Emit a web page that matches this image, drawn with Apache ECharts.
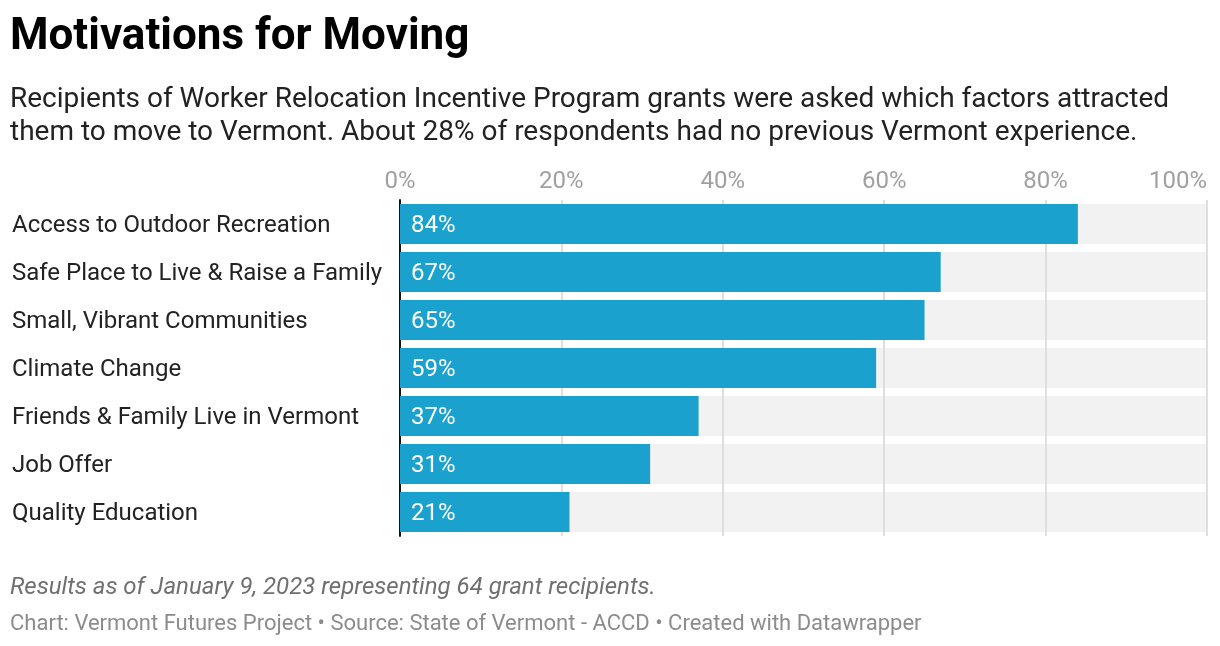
<!DOCTYPE html>
<html><head><meta charset="utf-8">
<script src="https://cdn.jsdelivr.net/npm/echarts@6/dist/echarts.min.js"></script>
<style>html,body{margin:0;padding:0;background:#fff}#c{width:1220px;height:646px}</style>
</head><body><div id="c"></div>
<script>
const categories = ["Access to Outdoor Recreation","Safe Place to Live & Raise a Family","Small, Vibrant Communities","Climate Change","Friends & Family Live in Vermont","Job Offer","Quality Education"];
const values = [84, 67, 65, 59, 37, 31, 21];
const backgroundValues = [100, 100, 100, 100, 100, 100, 100];
const tickLabels = ["0%","20%","40%","60%","80%","100%"];

const chart = echarts.init(document.getElementById('c'), null, {renderer:'canvas'});
const F = 'Roboto, "Noto Sans", sans-serif';
chart.setOption({
  backgroundColor:'#ffffff',
  animation:false,
  title:[
    {text:'Motivations for Moving', left:5, top:11, textStyle:{fontFamily:F, fontSize:44, fontWeight:'bold', color:'#000'}},
    {text:'Recipients of Worker Relocation Incentive Program grants were asked which factors attracted\nthem to move to Vermont. About 28% of respondents had no previous Vermont experience.', left:5, top:78, textStyle:{fontFamily:F, fontSize:28, fontWeight:'normal', color:'#222', lineHeight:33}},
    {text:'Results as of January 9, 2023 representing 64 grant recipients.', left:5, top:571, textStyle:{fontFamily:F, fontSize:24, fontStyle:'italic', fontWeight:'normal', color:'#707070'}},
    {text:'Chart: Vermont Futures Project • Source: State of Vermont - ACCD • Created with Datawrapper', left:5, top:608, textStyle:{fontFamily:F, fontSize:22, fontWeight:'normal', color:'#8c8c8c'}}
  ],
  grid:{left:400, right:13, top:200, height:336, containLabel:false, outerBoundsMode:'none'},
  xAxis:{type:'value', position:'top', min:0, max:100, interval:20,
    axisLine:{show:false}, axisTick:{show:false},
    axisLabel:{margin:6, fontFamily:F, fontSize:24, color:'#a0a0a0', alignMaxLabel:'right', formatter:(v)=>tickLabels[Math.round(v/20)]},
    splitLine:{show:true, lineStyle:{color:'#dedede', width:2}}
  },
  yAxis:{type:'category', data:categories, inverse:true,
    axisLine:{show:true, onZero:false, lineStyle:{color:'#111', width:2}}, axisTick:{show:false},
    axisLabel:{margin:388, align:'left', fontFamily:F, fontSize:24, color:'#222',
      formatter:(v)=>'{a|'+v+'}',
      rich:{a:{fontFamily:F, fontSize:24, color:'#222', padding:[4,0,0,0]}}}
  },
  series:[
    {type:'bar', data:backgroundValues, barCategoryGap:'16.7%', barGap:'-100%', z:-1, silent:true,
      itemStyle:{color:'#f2f2f2'}},
    {type:'bar', data:values, barCategoryGap:'16.7%', barGap:'-100%', z:3,
      itemStyle:{color:'#1ba1cd'},
      label:{show:true, position:'insideLeft', distance:11, offset:[0,2], formatter:(p)=>p.value+'%', fontFamily:F, fontSize:24, color:'#fff'}}
  ]
});
</script></body></html>
